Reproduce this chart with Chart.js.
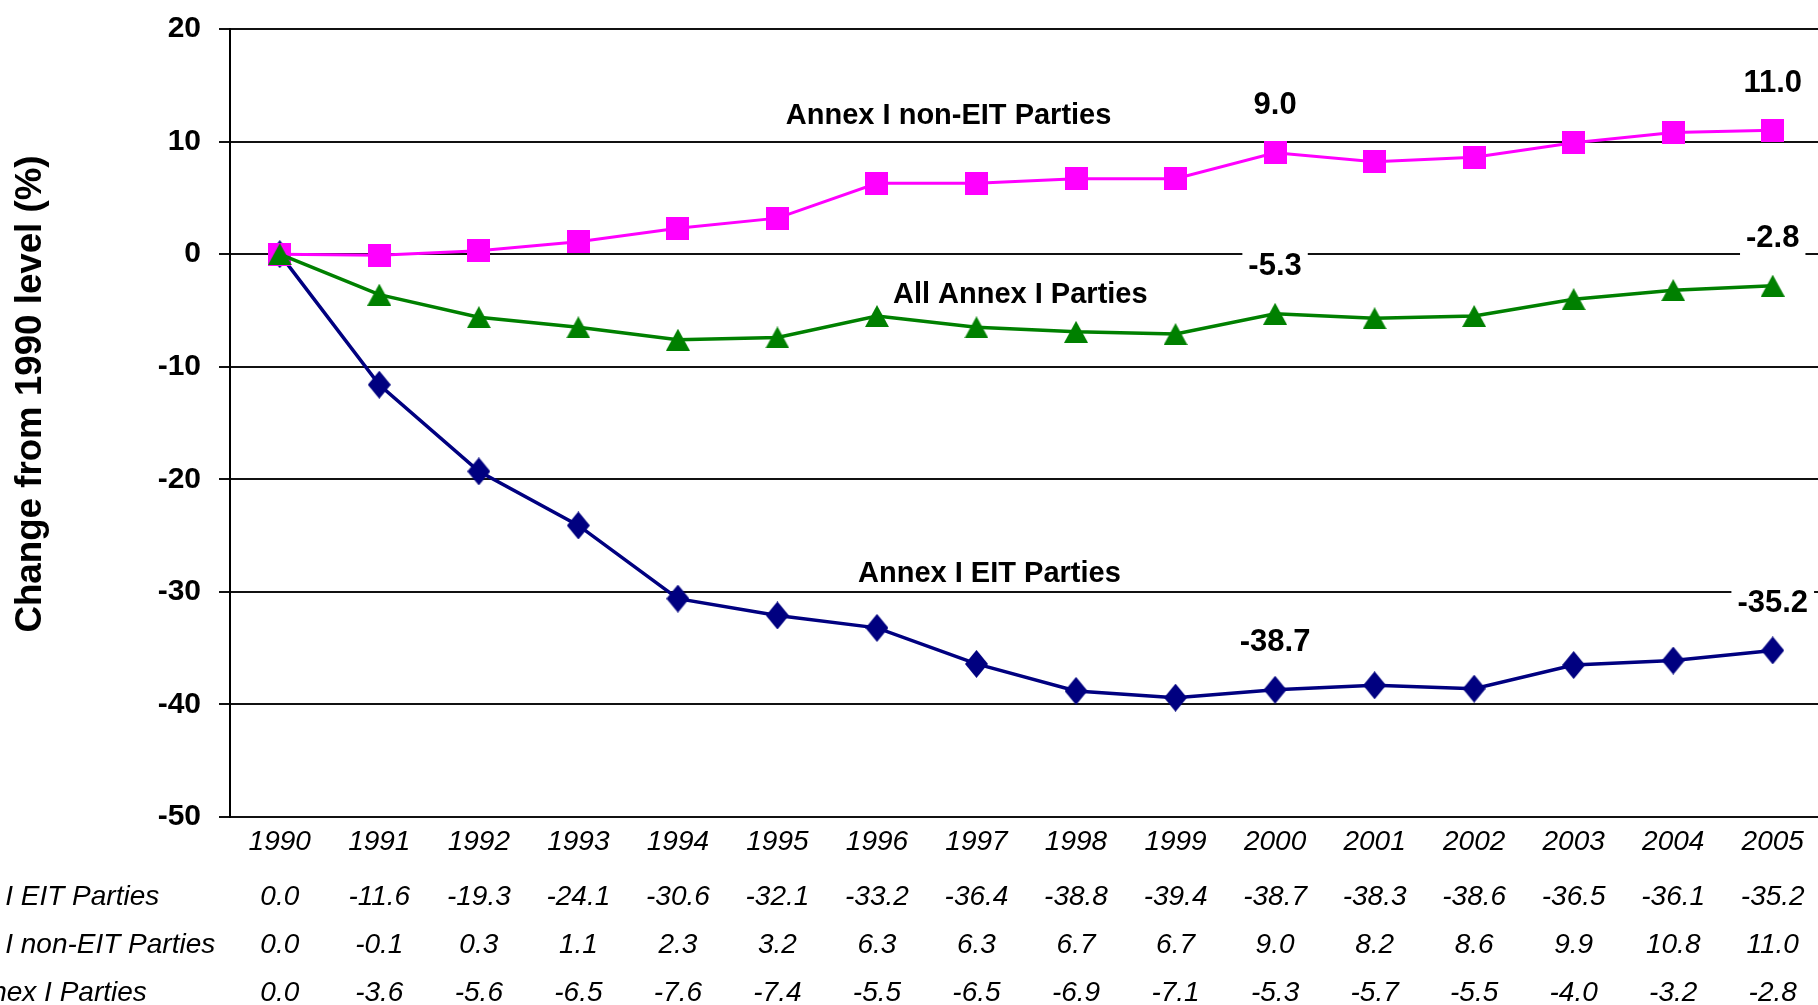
<!DOCTYPE html>
<html>
<head>
<meta charset="utf-8">
<script src="https://cdn.jsdelivr.net/npm/chart.js@4.4.1/dist/chart.umd.min.js"></script>
<style>
  html, body { margin: 0; padding: 0; background: #fff; overflow: hidden; }
  #wrap { width: 1838px; height: 1005px; }
</style>
</head>
<body>
<div id="wrap"><canvas id="chart" width="1838" height="1005"></canvas></div>
<script>
const years = ['1990', '1991', '1992', '1993', '1994', '1995', '1996', '1997',
               '1998', '1999', '2000', '2001', '2002', '2003', '2004', '2005'];
const eitParties = [0.0, -11.6, -19.3, -24.1, -30.6, -32.1, -33.2, -36.4, -38.8, -39.4, -38.7, -38.3, -38.6, -36.5, -36.1, -35.2];
const nonEitParties = [0.0, -0.1, 0.3, 1.1, 2.3, 3.2, 6.3, 6.3, 6.7, 6.7, 9.0, 8.2, 8.6, 9.9, 10.8, 11.0];
const allParties = [0.0, -3.6, -5.6, -6.5, -7.6, -7.4, -5.5, -6.5, -6.9, -7.1, -5.3, -5.7, -5.5, -4.0, -3.2, -2.8];
const seriesNames = ['Annex I EIT Parties', 'Annex I non-EIT Parties', 'All Annex I Parties'];
const yMin = -50, yMax = 20, yStep = 10;
const labelledYears = ['2000', '2005'];

const FONT = '"Liberation Sans", Arial, sans-serif';

function marker(shape, w, h, color) {
    let c = document.createElement('canvas');
    c.width = w;
    c.height = h;
    let g = c.getContext('2d');
    g.fillStyle = color;
    g.beginPath();
    if (shape === 'square') {
        g.rect(0, 0, w, h);
    } else if (shape === 'triangle') {
        g.moveTo(w / 2, 0); g.lineTo(w, h); g.lineTo(0, h);
    } else {
        g.moveTo(w / 2, 0); g.lineTo(w, h / 2); g.lineTo(w / 2, h); g.lineTo(0, h / 2);
    }
    g.closePath();
    g.fill();
    return c;
}

// where the series names sit, in axis units (x as fractional category index)
const nameSpots = [
    { ds: 0, x: 7.13, y: -28.4 },
    { ds: 1, x: 6.72, y: 12.3 },
    { ds: 2, x: 7.44, y: -3.6 }
];

const extras = {
    id: 'extras',
    afterDatasetsDraw(chart) {
        let ctx = chart.ctx;
        let xs = chart.scales.x, ys = chart.scales.y;
        let sets = chart.data.datasets;

        ctx.save();
        ctx.textAlign = 'center';
        ctx.textBaseline = 'middle';

        // values at 2000 and 2005
        ctx.font = 'bold 31px ' + FONT;
        sets.forEach(ds => {
            labelledYears.forEach(yr => {
                let i = years.indexOf(yr);
                let px = xs.getPixelForTick(i);
                let py = ys.getPixelForValue(ds.data[i]) - 47;
                let txt = ds.data[i].toFixed(1);
                let w = ctx.measureText(txt).width;
                ctx.fillStyle = '#fff';
                ctx.fillRect(px - w / 2 - 6, py - 19, w + 12, 38);
                ctx.fillStyle = '#000';
                ctx.fillText(txt, px, py);
            });
        });

        // series names
        ctx.font = 'bold 29px ' + FONT;
        nameSpots.forEach(s => {
            ctx.fillStyle = '#000';
            ctx.fillText(sets[s.ds].label, xs.getPixelForValue(s.x), ys.getPixelForValue(s.y));
        });

        // y axis title
        ctx.save();
        ctx.translate(31, 394);
        ctx.rotate(-Math.PI / 2);
        ctx.font = 'bold 36.7px ' + FONT;
        ctx.fillText('Change from 1990 level (%)', 0, 0);
        ctx.restore();

        // data table under the axis
        ctx.font = 'italic 28px ' + FONT;
        let rows = [eitParties, nonEitParties, allParties];
        rows.forEach((row, r) => {
            let ty = xs.top + 80 + r * 48;
            ctx.textAlign = 'left';
            ctx.fillText(seriesNames[r], -82, ty);
            ctx.textAlign = 'center';
            row.forEach((v, i) => {
                ctx.fillText(v.toFixed(1), xs.getPixelForTick(i), ty);
            });
        });
        ctx.restore();
    }
};

new Chart(document.getElementById('chart'), {
    type: 'line',
    data: {
        labels: years,
        datasets: [{
            label: seriesNames[0],
            data: eitParties,
            borderColor: '#000080',
            backgroundColor: '#000080',
            borderWidth: 3.5,
            pointStyle: marker('diamond', 23, 28, '#000080'),
            pointRadius: 12,
            order: 3
        }, {
            label: seriesNames[1],
            data: nonEitParties,
            borderColor: '#ff00ff',
            backgroundColor: '#ff00ff',
            borderWidth: 3,
            pointStyle: marker('square', 23, 23, '#ff00ff'),
            pointRadius: 12,
            order: 2
        }, {
            label: seriesNames[2],
            data: allParties,
            borderColor: '#008000',
            backgroundColor: '#008000',
            borderWidth: 3.5,
            pointStyle: marker('triangle', 24, 22, '#008000'),
            pointRadius: 12,
            order: 1
        }]
    },
    options: {
        responsive: false,
        animation: false,
        layout: { padding: { top: 29, right: 0, bottom: 0, left: 0 } },
        plugins: {
            legend: { display: false },
            tooltip: { enabled: false }
        },
        scales: {
            x: {
                offset: true,
                grid: { display: false, drawTicks: false },
                border: { display: false },
                ticks: {
                    color: '#000',
                    font: { family: FONT, size: 28, style: 'italic' },
                    padding: 8,
                    maxRotation: 0,
                    autoSkip: false
                },
                afterFit(s) { s.height = 188; }
            },
            y: {
                min: yMin,
                max: yMax,
                ticks: {
                    stepSize: yStep,
                    color: '#000',
                    font: { family: FONT, size: 30, weight: 'bold' },
                    padding: 18
                },
                grid: { color: '#111', lineWidth: 2, tickLength: 11 },
                border: { color: '#000', width: 2 },
                afterFit(s) {
                    s.width = 230;
                    s.paddingTop = 0;
                    s.paddingBottom = 0;
                }
            }
        }
    },
    plugins: [extras]
});
</script>
</body>
</html>
